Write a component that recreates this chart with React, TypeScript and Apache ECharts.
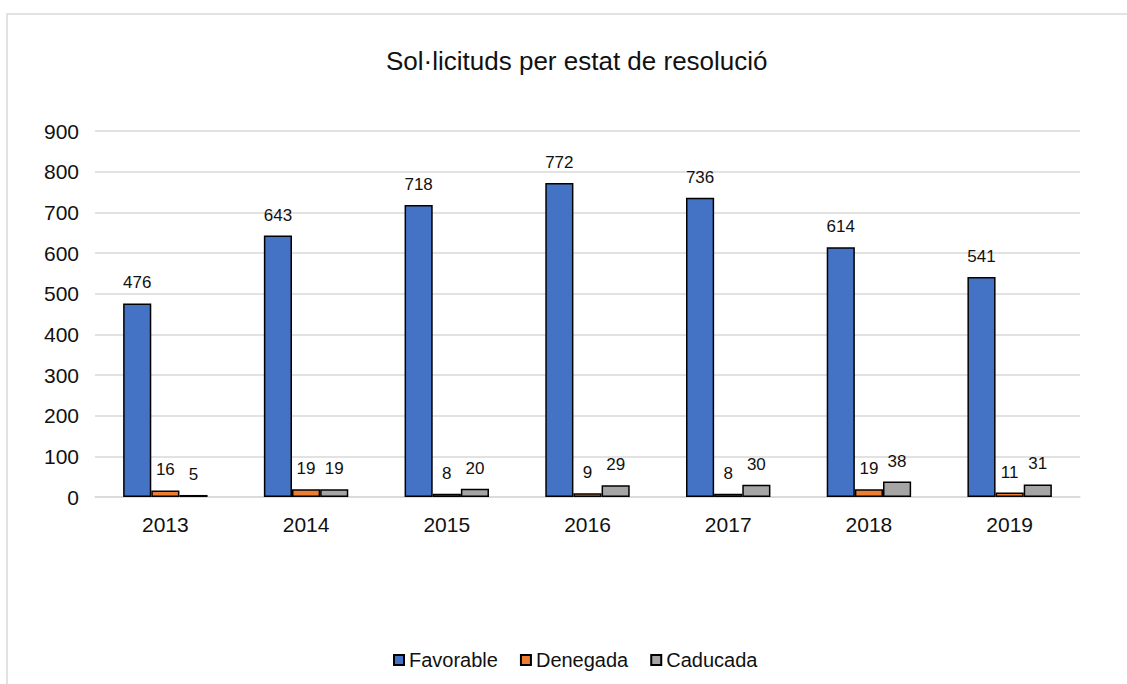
import React, { useEffect, useRef } from "react";
import * as echarts from "echarts";

const categories = ["2013", "2014", "2015", "2016", "2017", "2018", "2019"];
const favorable = [476, 643, 718, 772, 736, 614, 541];
const denegada = [16, 19, 8, 9, 8, 19, 11];
const caducada = [5, 19, 20, 29, 30, 38, 31];
const seriesNames = ["Favorable", "Denegada", "Caducada"];
const colors = ["#4472C4", "#ED7D31", "#A5A5A5"];
const titleText = "Sol·licituds per estat de resolució";

const FONT = "'Liberation Sans', Arial, sans-serif";

export default function App() {
  const ref = useRef<HTMLDivElement>(null);
  useEffect(() => {
    if (!ref.current) return;
    const chart = echarts.init(ref.current, undefined, { renderer: "svg" });
    const values = [favorable, denegada, caducada];
    chart.setOption({
      animation: false,
      backgroundColor: "#ffffff",
      textStyle: { fontFamily: FONT },
      title: {
        text: titleText,
        left: 381,
        top: 43,
        textStyle: { fontFamily: FONT, fontSize: 26, fontWeight: "normal", color: "#111" },
      },
      graphic: [
        {
          type: "rect",
          shape: { x: 7, y: 14, width: 1300, height: 1000 },
          style: { fill: "none", stroke: "#d9d9d9", lineWidth: 1.5 },
          silent: true,
          z: -1,
        },
      ],
      legend: {
        left: 388,
        top: 645,
        itemWidth: 10,
        itemHeight: 10,
        itemGap: 22,
        icon: "rect",
        textStyle: { fontFamily: FONT, fontSize: 20, color: "#111" },
        data: seriesNames,
      },
      grid: { left: 95, right: 47, top: 131, bottom: 187, containLabel: false },
      xAxis: {
        type: "category",
        data: categories,
        axisLine: { show: true, lineStyle: { color: "#d9d9d9", width: 1.5 } },
        axisTick: { show: false },
        axisLabel: { fontFamily: FONT, fontSize: 21, color: "#111", margin: 17 },
      },
      yAxis: {
        type: "value",
        min: 0,
        max: 900,
        interval: 100,
        axisLine: { show: false },
        axisTick: { show: false },
        splitLine: { lineStyle: { color: "#d9d9d9", width: 1.5 } },
        axisLabel: { fontFamily: FONT, fontSize: 21, color: "#111", margin: 16 },
      },
      series: seriesNames.map((name, i) => ({
        name,
        type: "bar",
        data: values[i],
        barGap: "0%",
        barCategoryGap: "40%",
        itemStyle: { color: colors[i], borderColor: "#000", borderWidth: 1.5 },
        label: {
          show: true,
          position: "top",
          distance: 12,
          fontFamily: FONT,
          fontSize: 17,
          color: "#111",
        },
      })),
    });
    return () => chart.dispose();
  }, []);
  return (
    <div
      ref={ref}
      style={{ position: "absolute", left: 0, top: 0, width: 1127, height: 684 }}
    />
  );
}
